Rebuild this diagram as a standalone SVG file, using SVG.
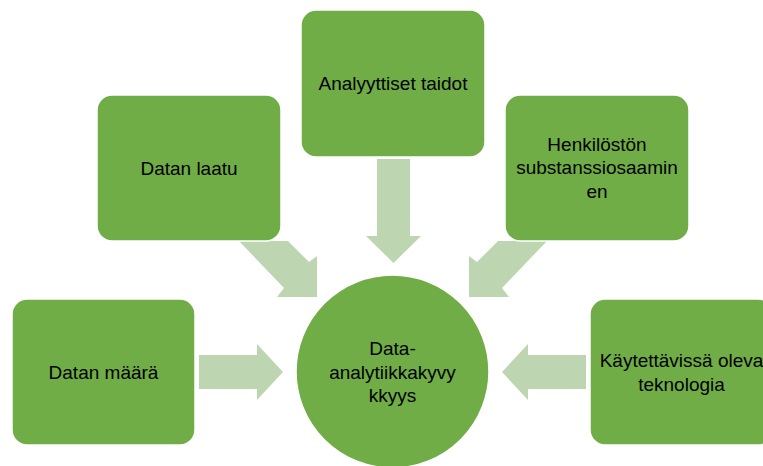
<svg xmlns="http://www.w3.org/2000/svg" width="763" height="466" viewBox="0 0 763 466">
<style>
.box{fill:#70AD47;stroke:#ffffff;stroke-width:1.5}
.arr{fill:#BDD5B1}
.t{font-family:"Liberation Sans",Arial,sans-serif;font-size:19px;fill:#000;text-anchor:middle}
</style>
<rect width="763" height="466" fill="#ffffff"/>
<g id="connectors">
<polygon class="arr" points="199,355 257,355 257,344 283,372 257,400 257,389 199,389"/>
<polygon class="arr" points="586,355 528,355 528,344 502,372 528,400 528,389 586,389"/>
<polygon class="arr" points="377,159 410,159 410,236 421,236 393.5,263 366,236 377,236"/>
<polygon class="arr" points="239,241 288,241 309,262 317,256 317,297 277,297 284,288"/>
<polygon class="arr" points="547,241 498,241 477,262 469,256 469,297 509,297 502,288"/>
</g>
<g id="center">
<circle cx="392.5" cy="371.5" r="96.5" class="box"/>
<text class="t" x="392.5" y="355">Data-</text>
<text class="t" x="392.5" y="379">analytiikkakyvy</text>
<text class="t" x="392.5" y="402">kkyys</text>
</g>
<g id="datan-maara">
<rect class="box" x="12" y="299" width="183" height="146" rx="15"/>
<text class="t" x="103.5" y="379">Datan määrä</text>
</g>
<g id="datan-laatu">
<rect class="box" x="97" y="95" width="184" height="146" rx="15"/>
<text class="t" x="189" y="175">Datan laatu</text>
</g>
<g id="analyyttiset-taidot">
<rect class="box" x="301" y="10" width="184" height="147" rx="15"/>
<text class="t" x="393" y="90">Analyyttiset taidot</text>
</g>
<g id="henkiloston">
<rect class="box" x="505" y="95" width="184" height="146" rx="15"/>
<text class="t" x="597" y="150.5">Henkilöstön</text>
<text class="t" x="597" y="174">substanssiosaamin</text>
<text class="t" x="597" y="197.5">en</text>
</g>
<g id="kaytettavissa">
<rect class="box" x="590" y="299" width="183" height="146" rx="15"/>
<text class="t" x="681.5" y="367">Käytettävissä oleva</text>
<text class="t" x="681.5" y="390.5">teknologia</text>
</g>
</svg>
